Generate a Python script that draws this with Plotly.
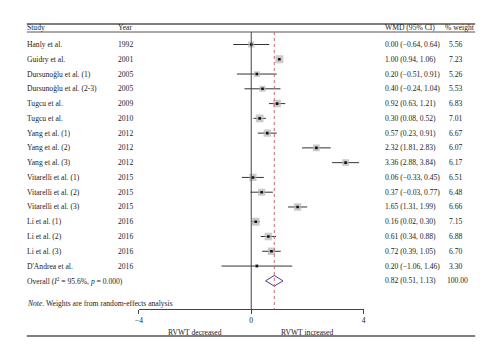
import plotly.graph_objects as go

studies = ["Hanly et al.", "Guidry et al.", "Dursunoğlu et al. (1)", "Dursunoğlu et al. (2-3)",
           "Tugcu et al.", "Tugcu et al.", "Yang et al. (1)", "Yang et al. (2)", "Yang et al. (3)",
           "Vitarelli et al. (1)", "Vitarelli et al. (2)", "Vitarelli et al. (3)",
           "Li et al. (1)", "Li et al. (2)", "Li et al. (3)", "D'Andrea et al."]
years = ["1992", "2001", "2005", "2005", "2009", "2010", "2012", "2012", "2012",
         "2015", "2015", "2015", "2016", "2016", "2016", "2016"]
wmd = [0.00, 1.00, 0.20, 0.40, 0.92, 0.30, 0.57, 2.32, 3.36, 0.06, 0.37, 1.65, 0.16, 0.61, 0.72, 0.20]
ci_lo = [-0.64, 0.94, -0.51, -0.24, 0.63, 0.08, 0.23, 1.81, 2.88, -0.33, -0.03, 1.31, 0.02, 0.34, 0.39, -1.06]
ci_hi = [0.64, 1.06, 0.91, 1.04, 1.21, 0.52, 0.91, 2.83, 3.84, 0.45, 0.77, 1.99, 0.30, 0.88, 1.05, 1.46]
weights = [5.56, 7.23, 5.26, 5.53, 6.83, 7.01, 6.67, 6.07, 6.17, 6.51, 6.48, 6.66, 7.15, 6.88, 6.70, 3.30]
overall = 0.82
overall_lo = 0.51
overall_hi = 1.13
overall_weight = 100.00
overall_label = "Overall (<i>I</i><sup>2</sup> = 95.6%, <i>p</i> = 0.000)"
axis_ticks = [-4, 0, 4]

FONT = "Liberation Serif"
FS = 7.6
TXT = "#222222"
LINE = "#5a524e"

def fmt(v):
    s = f"{abs(v):.2f}"
    return ("\u2212" + s) if v < 0 else s

rows = list(range(len(studies)))
overall_row = len(studies)

fig = go.Figure()

# CI lines
cx, cy = [], []
for i in rows:
    cx += [ci_lo[i], ci_hi[i], None]
    cy += [i, i, None]
fig.add_trace(go.Scatter(x=cx, y=cy, mode="lines", line=dict(color="#333333", width=1),
                         hoverinfo="skip", showlegend=False))
# weight squares
fig.add_trace(go.Scatter(x=wmd, y=rows, mode="markers",
                         marker=dict(symbol="square", size=[w * 1.1 for w in weights],
                                     color="#b8b4b2", line=dict(width=0)),
                         showlegend=False))
# centre dots
fig.add_trace(go.Scatter(x=wmd, y=rows, mode="markers",
                         marker=dict(symbol="square", size=2.6, color="#111111"),
                         showlegend=False))
# overall diamond
h = 0.36
fig.add_trace(go.Scatter(x=[overall_lo, overall, overall_hi, overall, overall_lo],
                         y=[overall_row, overall_row - h, overall_row, overall_row + h, overall_row],
                         mode="lines", line=dict(color="#4a3f8f", width=1), showlegend=False))

# page has an 8px body margin: figure occupies page pixels 8..492 x 8..352
OFF = 8
W, H = 484, 344
def py(p):
    return 1 - (p - OFF) / H
def px(p):
    return (p - OFF) / W

row0_px = 44.5 - OFF
row_step = 14.77
y_top = -row0_px / row_step
y_bot = (H - row0_px) / row_step

axis_y_px = 309.3

shapes = [
    dict(type="line", xref="paper", yref="paper", x0=px(23), x1=px(477), y0=py(24), y1=py(24),
         line=dict(color=LINE, width=1.6)),
    dict(type="line", xref="paper", yref="paper", x0=px(23), x1=px(477), y0=py(32), y1=py(32),
         line=dict(color=LINE, width=1)),
    dict(type="line", xref="paper", yref="paper", x0=px(23), x1=px(477), y0=py(336), y1=py(336),
         line=dict(color=LINE, width=1.6)),
    dict(type="line", xref="x", yref="paper", x0=0, x1=0, y0=py(32), y1=py(axis_y_px),
         line=dict(color="#444444", width=1)),
    dict(type="line", xref="x", yref="paper", x0=overall, x1=overall, y0=py(32), y1=py(axis_y_px),
         line=dict(color="#c46a6a", width=1, dash="dot")),
]

ann = []
def add_text(x, y, text, xref="paper", yref="y", xanchor="left"):
    ann.append(dict(x=x, y=y, xref=xref, yref=yref, text=text, showarrow=False,
                    xanchor=xanchor, yanchor="middle", align=xanchor if xanchor != "center" else "center",
                    borderpad=0, borderwidth=0,
                    font=dict(family=FONT, size=FS, color=TXT)))

# headers
add_text(px(23), py(28), "Study", yref="paper")
add_text(px(115), py(28), "Year", yref="paper")
add_text(px(386), py(28), "WMD (95% CI)", yref="paper")
add_text(px(477), py(28), "% weight", yref="paper", xanchor="right")

for i in rows:
    add_text(px(23), i, studies[i])
    add_text(px(115), i, years[i])
    add_text(px(386), i, f"{fmt(wmd[i])} ({fmt(ci_lo[i])}, {fmt(ci_hi[i])})")
    add_text(px(457), i, f"{weights[i]:.2f}", xanchor="center")

add_text(px(23), overall_row, overall_label)
add_text(px(386), overall_row, f"{fmt(overall)} ({fmt(overall_lo)}, {fmt(overall_hi)})")
add_text(px(459), overall_row, f"{overall_weight:.2f}", xanchor="center")

add_text(px(23), py(303), "<i>Note</i>. Weights are from random-effects analysis", yref="paper")
add_text(-2, py(332), "RVWT decreased", xref="x", yref="paper", xanchor="center")
add_text(2, py(332), "RVWT increased", xref="x", yref="paper", xanchor="center")

fig.update_layout(
    width=W, height=H, margin=dict(l=0, r=0, t=0, b=0),
    paper_bgcolor="white", plot_bgcolor="rgba(0,0,0,0)",
    xaxis=dict(domain=[px(136.5), px(364)], range=[-4, 4], tickvals=axis_ticks,
               showline=True, linecolor="#444444", linewidth=1, ticks="outside", ticklen=4,
               tickcolor="#444444", tickfont=dict(family=FONT, size=FS, color=TXT),
               showgrid=False, zeroline=False, anchor="free", position=py(axis_y_px)),
    yaxis=dict(domain=[0, 1], range=[y_bot, y_top], visible=False, showgrid=False, zeroline=False),
    shapes=shapes, annotations=ann, showlegend=False,
)

fig.write_html("out.html")
